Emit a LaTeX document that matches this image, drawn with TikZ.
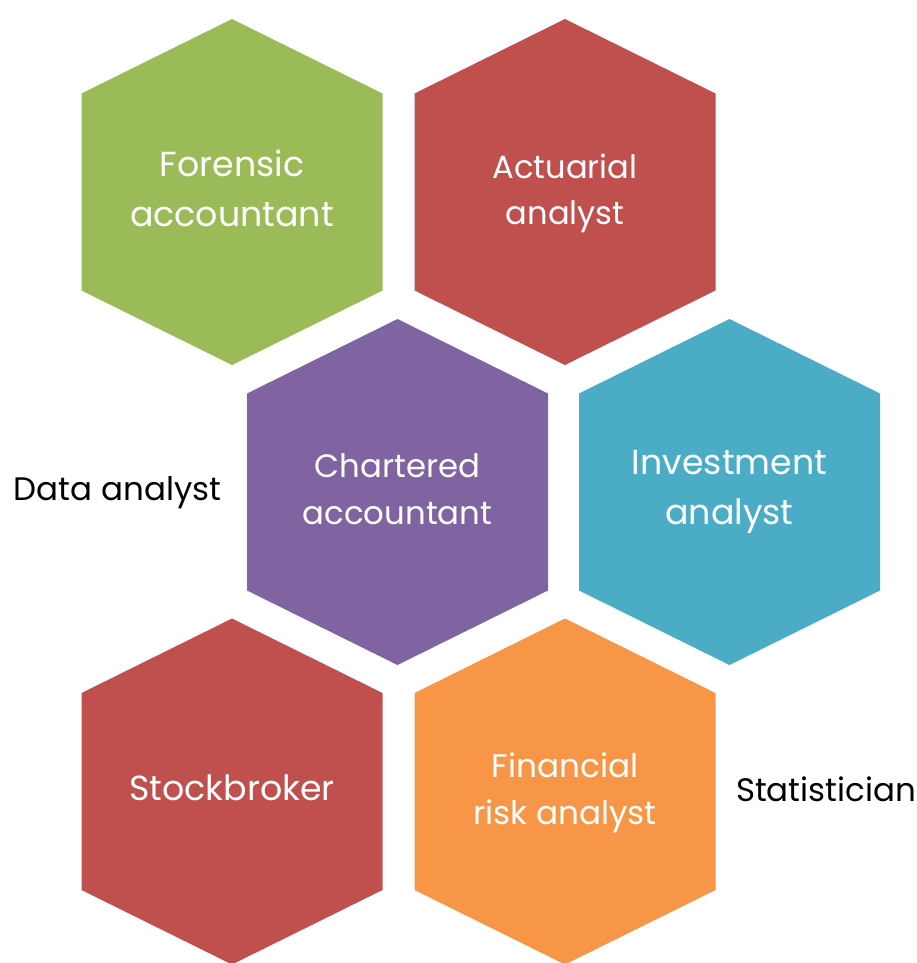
\documentclass[tikz,border=0pt]{standalone}
\usepackage{fontspec}
\setmainfont{Poppins}
\usetikzlibrary{positioning}
\definecolor{hexgreen}{HTML}{9BBB59}
\definecolor{hexred}{HTML}{C0504D}
\definecolor{hexpurple}{HTML}{8064A2}
\definecolor{hexteal}{HTML}{4BACC6}
\definecolor{hexorange}{HTML}{F79646}
\newcommand{\cellsize}[1]{\fontsize{#1}{\dimexpr#1pt*143/100\relax}\selectfont}
\tikzset{
  cell/.style={font=\cellsize{#1}, text=white, align=center, inner sep=0pt,
    execute at begin node=\strut, execute at end node=\strut},
  side/.style={font=\fontsize{18.5}{26}\selectfont, text=black, inner sep=0pt}
}

\begin{document}
\begin{tikzpicture}[x=0.02cm,y=-0.02cm]
  \useasboundingbox (0,0) rectangle (916,963);
  % honeycomb of job titles
  \foreach \cx/\cy/\dy/\fs/\col/\name/\txt in {
      232/192/4/19.8/hexgreen/forensic/{Forensic\\accountant},
      565/192/4/18.3/hexred/actuarial/{Actuarial\\analyst},
      397.5/492/4/18.4/hexpurple/chartered/{Chartered\\accountant},
      729.5/492/3/19.8/hexteal/investment/{Investment\\analyst},
      232/791.5/-1/19.8/hexred/stockbroker/{Stockbroker},
      565/791.5/4/18.6/hexorange/risk/{Financial\\risk analyst}}{
    \fill[\col] (\cx,\cy) ++(0,-173) -- ++(150.5,74.5) -- ++(0,197)
      -- ++(-150.5,74.5) -- ++(-150.5,-74.5) -- ++(0,-197) -- cycle;
    \node[cell=\fs] (\name) at (\cx,\cy+\dy) {\txt};
  }
  % loose labels
  \node[side] (data) at (117.5,493) {Data analyst};
  \node[side] (stat) at (826,789) {Statistician};
\end{tikzpicture}
\end{document}
